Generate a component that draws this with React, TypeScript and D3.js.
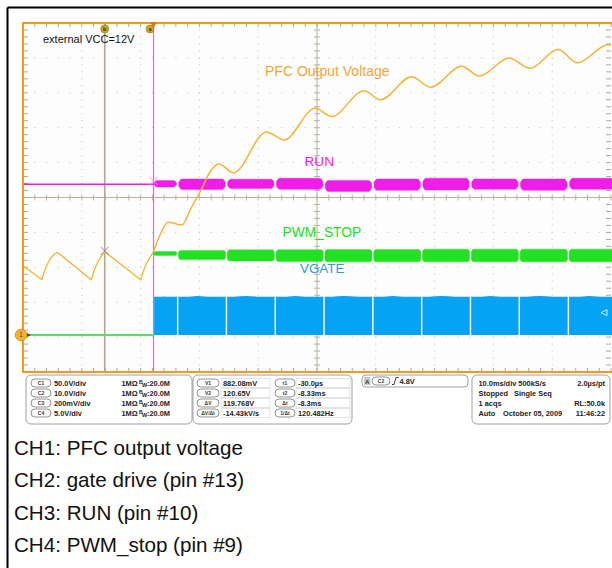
import React from 'react';
import * as d3 from 'd3';

// ---------- data ----------
const timeDomainMs = [0, 100]; // 10 ms/div
const divisionsX = 10;
const divisionsY = 10;
const groundDiv = -3.94; // all channel ground markers at same level

const channelNames = ['C1', 'C2', 'C3', 'C4'];
const channelVoltsPerDiv = [50, 10, 0.2, 5];
const channelScaleLabels = ['50.0V/div', '10.0V/div', '200mV/div', '5.0V/div'];
const channelCoupling = ['1MΩ', '1MΩ', '1MΩ', '1MΩ'];
const channelBandwidth = [':20.0M', ':20.0M', ':20.0M', ':20.0M'];

// CH1 PFC output voltage before start-up (sawtooth from VCC ripple), ms / V
const sawTimeMs = [0, 3.2, 3.6, 4.1, 4.7, 5.3, 5.8, 6.3, 11.6, 12.0, 12.5, 13.1, 13.6, 14.0, 14.5, 20.0, 20.4, 20.9, 21.5, 22.2];
const sawVolts = [99, 79.5, 90, 101, 110, 116, 118.5, 115.5, 79, 90, 101, 110, 116, 118.5, 115.5, 79, 90, 101, 110, 119.5];
// CH1 PFC output voltage ramp after start-up, ms / V
const rampTimeMs = [22.2, 23.4, 24.7, 27.0, 28.6, 30.3, 31.9, 33.3, 35.8, 41.4, 44.4, 49.7, 52.5, 58.0, 60.8, 66.1, 69.3, 74.6, 77.6, 82.7, 86.2, 91.0, 94.3, 99.5, 100];
const rampVolts = [119.5, 145, 162, 157.5, 182, 208, 235, 245, 232.5, 291, 279.5, 325, 313, 350, 337, 370, 355, 385, 371, 397, 382, 409, 390, 416, 415.5];

// switching bursts, one per half line cycle (8.33 ms)
const cycleEdgesMs = [22.3, 26.3, 34.6, 42.9, 51.2, 59.5, 67.8, 76.1, 84.4, 92.75, 101.5];
const runIdleV = 0.8636;
const runHighV = [0.885, 0.894, 0.893, 0.898, 0.886, 0.894, 0.899, 0.894, 0.894, 0.898];
const runLowV = [0.848, 0.834, 0.840, 0.835, 0.822, 0.829, 0.831, 0.835, 0.829, 0.835];
const pwmHighV = [11.96, 12.12, 12.2, 12.22, 12.25, 12.25, 12.3, 12.3, 12.3, 12.3];
const pwmLowV = [11.39, 10.8, 10.62, 10.52, 10.48, 10.48, 10.48, 10.5, 10.5, 10.5];
const gateEdgeV = [10.97, 10.97, 10.97, 10.97, 10.97, 10.97, 10.97, 10.97, 10.97, 10.97];
const gatePeakV = [11.05, 11.2, 11.15, 11.2, 11.15, 11.2, 11.15, 11.2, 11.15, 11.2];

const cursorAms = 22.2;
const cursorBms = 13.9;
const cursorAValue = 0.88208; // CH3
const cursorBValue = 120.65; // CH1

const measLabelsA = ['V1', 'V2', 'ΔV', 'ΔV/Δt'];
const measValuesA = ['882.08mV', '120.65V', '119.768V', '-14.43kV/s'];
const measLabelsB = ['t1', 't2', 'Δt', '1/Δt'];
const measValuesB = ['-30.0µs', '-8.33ms', '-8.3ms', '120.482Hz'];
const triggerInfo = ['A', 'C2', '4.8V'];
const acqLeft = ['10.0ms/div 500kS/s', 'Stopped', '1 acqs', 'Auto'];
const acqMid = ['', 'Single Seq', '', 'October 05, 2009'];
const acqRight = ['2.0µs/pt', '', 'RL:50.0k', '11:46:22'];

const captions = ['CH1: PFC output voltage', 'CH2: gate drive (pin #13)', 'CH3: RUN (pin #10)', 'CH4: PWM_stop (pin #9)'];
const traceLabels = ['PFC Output Voltage', 'RUN', 'PWM_STOP', 'VGATE'];
const noteText = 'external VCC=12V';

// ---------- layout ----------
const PL = 23, PR = 611, PT = 23, PB = 372;
const FONT = 'Liberation Sans, Arial, Helvetica, sans-serif';
const C_ORANGE = '#f6b234';
const C_FRAME = '#f39a18';
const C_MAG = '#f01ce8';
const C_GREEN = '#22e022';
const C_BLUE = '#06a3f5';
const C_GRID = '#c4c4c4';
const C_AXIS = '#b9b0a0';

const x = d3.scaleLinear().domain(timeDomainMs).range([PL, PR]);
const yDiv = d3.scaleLinear().domain([-divisionsY / 2, divisionsY / 2]).range([PB, PT]);
const yCh = (ch: number) => (v: number) => yDiv(groundDiv + v / channelVoltsPerDiv[ch]);
const y1 = yCh(0), y2 = yCh(1), y3 = yCh(2), y4 = yCh(3);

type BP = { t: number; hi: number; lo: number };
function bandPts(s: number, e: number, hi: number, lo: number, taper: number, inset: number): BP[] {
  const mid = (hi + lo) / 2, half = (hi - lo) / 2;
  return [
    { t: s, hi: mid + half * taper, lo: mid - half * taper },
    { t: s + inset, hi, lo },
    { t: (s + e) / 2, hi, lo },
    { t: e - inset, hi, lo },
    { t: e, hi: mid + half * taper, lo: mid - half * taper },
  ];
}

export default function App() {
  const segs = d3.range(cycleEdgesMs.length - 1);
  const sawLine = d3.line<number>().x((i) => x(sawTimeMs[i])).y((i) => y1(sawVolts[i])).curve(d3.curveLinear);
  const rampLine = d3.line<number>().x((i) => x(rampTimeMs[i])).y((i) => y1(rampVolts[i])).curve(d3.curveMonotoneX);

  const runArea = d3.area<BP>().x((d) => x(d.t)).y0((d) => y3(d.lo)).y1((d) => y3(d.hi)).curve(d3.curveMonotoneX);
  const pwmArea = d3.area<BP>().x((d) => x(d.t)).y0((d) => y4(d.lo)).y1((d) => y4(d.hi)).curve(d3.curveMonotoneX);
  const gateArea = d3.area<{ t: number; v: number }>().x((d) => x(d.t)).y0(() => y2(0)).y1((d) => y2(d.v)).curve(d3.curveMonotoneX);

  const majorX = d3.range(1, divisionsX).filter((i) => i !== divisionsX / 2);
  const majorY = d3.range(-divisionsY / 2 + 1, divisionsY / 2).filter((j) => j !== 0);
  const minorX = d3.range(0, divisionsX * 5 + 1).map((k) => PL + (k * (PR - PL)) / (divisionsX * 5));
  const minorY = d3.range(0, divisionsY * 5 + 1).map((k) => yDiv(-divisionsY / 2 + k / 5));
  const cx = (PL + PR) / 2, cy = yDiv(0);
  const dxDiv = (PR - PL) / divisionsX, dyDiv = (PB - PT) / divisionsY;

  const rowY = [383, 393, 403, 413];
  const pill = (px: number, py: number, w: number, label: string, key: string) => (
    <g key={key}>
      <rect x={px} y={py - 4} width={w} height={8} rx={4} fill="#fff" stroke="#666" strokeWidth={0.7} />
      <text x={px + w / 2} y={py + 1.8} fontSize={5} fontWeight="bold" textAnchor="middle" fill="#333">{label}</text>
    </g>
  );
  const txt = { fontFamily: FONT, fontSize: 7.4, fontWeight: 'bold' as const, fill: '#222' };

  return (
    <svg width={612} height={568} style={{ position: 'absolute', left: 0, top: 0, background: '#fff' }} fontFamily={FONT}>
      <defs>
        <clipPath id="plotClip"><rect x={PL} y={PT} width={612 - PL} height={PB - PT} /></clipPath>
      </defs>
      {/* outer frame */}
      <line x1={7.5} y1={7.5} x2={612} y2={7.5} stroke="#000" strokeWidth={2} />
      <line x1={7.5} y1={7.5} x2={7.5} y2={568} stroke="#000" strokeWidth={2} />

      {/* plot background */}
      <rect x={PL} y={PT} width={PR - PL} height={PB - PT} fill="#fdfdfd" />

      {/* dotted grid */}
      {majorX.map((i) => (
        <line key={'gx' + i} x1={PL + i * dxDiv} x2={PL + i * dxDiv} y1={PT} y2={PB} stroke={C_GRID} strokeWidth={1} strokeDasharray={`1.2 ${dyDiv / 5 - 1.2}`} strokeDashoffset={-dyDiv / 5 + 0.6} />
      ))}
      {majorY.map((j) => (
        <line key={'gy' + j} x1={PL} x2={PR} y1={yDiv(j)} y2={yDiv(j)} stroke={C_GRID} strokeWidth={1} strokeDasharray={`1.2 ${dxDiv / 5 - 1.2}`} strokeDashoffset={-dxDiv / 5 + 0.6} />
      ))}
      {/* center axes with ticks */}
      <line x1={PL} x2={PR} y1={cy} y2={cy} stroke={C_AXIS} strokeWidth={1} />
      <line x1={cx} x2={cx} y1={PT} y2={PB} stroke={C_AXIS} strokeWidth={1} />
      {minorX.map((px, k) => (
        <g key={'tx' + k}>
          <line x1={px} x2={px} y1={cy - 3} y2={cy + 3} stroke={C_AXIS} />
          <line x1={px} x2={px} y1={PT} y2={PT + 4} stroke="#a8a8a8" />
          <line x1={px} x2={px} y1={PB - 4} y2={PB} stroke="#a8a8a8" />
        </g>
      ))}
      {minorY.map((py, k) => (
        <g key={'ty' + k}>
          <line x1={cx - 3} x2={cx + 3} y1={py} y2={py} stroke={C_AXIS} />
          <line x1={PL} x2={PL + 5} y1={py} y2={py} stroke="#a8a8a8" />
          <line x1={PR - 5} x2={PR} y1={py} y2={py} stroke="#a8a8a8" />
        </g>
      ))}

      {/* cursors */}
      <line x1={x(cursorBms)} x2={x(cursorBms)} y1={PT} y2={PB} stroke="#b5a68e" strokeWidth={1.6} />
      <line x1={x(cursorAms)} x2={x(cursorAms)} y1={PT} y2={PB} stroke="#ff55ff" strokeWidth={1.2} />

      <g clipPath="url(#plotClip)">
        {/* CH2 gate drive */}
        <line x1={x(0)} x2={x(cycleEdgesMs[0])} y1={y2(0)} y2={y2(0)} stroke={C_BLUE} strokeWidth={1.5} />
        {segs.map((i) => {
          const s = cycleEdgesMs[i] + (i === 0 ? 0 : 0.12);
          const e = cycleEdgesMs[i + 1] - 0.12;
          const pts = [
            { t: s, v: gateEdgeV[i] },
            { t: s + (e - s) * 0.15, v: gateEdgeV[i] },
            { t: s + (e - s) * 0.4, v: gatePeakV[i] },
            { t: s + (e - s) * 0.7, v: gateEdgeV[i] },
            { t: e, v: gateEdgeV[i] },
          ];
          return <path key={'g' + i} d={gateArea(pts) || ''} fill={C_BLUE} />;
        })}
        {/* CH4 PWM_STOP */}
        <line x1={x(0)} x2={x(cycleEdgesMs[0])} y1={y4(0)} y2={y4(0)} stroke="#5be05b" strokeWidth={2} />
        {segs.map((i) => (
          <path key={'p' + i} d={pwmArea(bandPts(cycleEdgesMs[i] + (i === 0 ? 0 : 0.15), cycleEdgesMs[i + 1] - 0.15, pwmHighV[i], pwmLowV[i], 0.6, 0.3)) || ''} fill={C_GREEN} stroke={C_GREEN} strokeWidth={0.4} />
        ))}
        {/* CH3 RUN */}
        <line x1={x(0)} x2={x(cycleEdgesMs[0])} y1={y3(runIdleV)} y2={y3(runIdleV)} stroke={C_MAG} strokeWidth={1.4} />
        {segs.map((i) => (
          <path key={'r' + i} d={runArea(bandPts(cycleEdgesMs[i] + (i === 0 ? 0 : 0.2), cycleEdgesMs[i + 1] - 0.2, runHighV[i], runLowV[i], 0.4, 0.5)) || ''} fill={C_MAG} stroke={C_MAG} strokeWidth={0.4} />
        ))}
        {/* CH1 PFC output */}
        <path d={sawLine(d3.range(sawTimeMs.length)) || ''} fill="none" stroke={C_ORANGE} strokeWidth={1.3} strokeLinejoin="round" />
        <path d={rampLine(d3.range(rampTimeMs.length)) || ''} fill="none" stroke={C_ORANGE} strokeWidth={1.5} />
      </g>

      {/* cursor crosses */}
      {[[x(cursorBms), y1(cursorBValue), '#8f8f8f'], [x(cursorAms), y3(cursorAValue), '#ff88ff']].map(([px, py, c], k) => (
        <g key={'cx' + k} stroke={c as string} strokeWidth={1}>
          <line x1={(px as number) - 4} x2={(px as number) + 4} y1={(py as number) - 4} y2={(py as number) + 4} />
          <line x1={(px as number) - 4} x2={(px as number) + 4} y1={(py as number) + 4} y2={(py as number) - 4} />
        </g>
      ))}

      {/* ref marker */}
      <polygon points={`${PR - 10},${y2(6.4)} ${PR - 4},${y2(6.4) - 3} ${PR - 4},${y2(6.4) + 3}`} fill="none" stroke="#fff" strokeWidth={0.8} />

      {/* frame */}
      <polyline points={`${613},${PT} ${PL},${PT} ${PL},${PB} ${613},${PB}`} fill="none" stroke={C_FRAME} strokeWidth={2} />

      {/* cursor handles & trigger marker */}
      <polygon points={`${x(cursorAms) - 3.5},${PT - 1} ${x(cursorAms) + 3.5},${PT - 1} ${x(cursorAms)},${PT + 5}`} fill="#f07010" />
      <circle cx={x(cursorBms)} cy={29} r={4} fill="#c9a92a" stroke="#8a7420" strokeWidth={0.6} />
      <text x={x(cursorBms)} y={31} fontSize={5.5} fontWeight="bold" textAnchor="middle" fill="#3a2c00">b</text>
      <circle cx={x(cursorAms) - 3.5} cy={29} r={4} fill="#c9a92a" stroke="#8a7420" strokeWidth={0.6} />
      <text x={x(cursorAms) - 3.5} y={31} fontSize={5.5} fontWeight="bold" textAnchor="middle" fill="#3a2c00">a</text>

      {/* ground marker 1 */}
      <circle cx={21} cy={y1(0)} r={5.8} fill="#f4b232" stroke="#d08a10" strokeWidth={0.8} />
      <text x={21} y={y1(0) + 2.3} fontSize={6.5} textAnchor="middle" fill="#5a3a00">1</text>
      <polygon points={`${27},${y1(0) - 2} ${31},${y1(0)} ${27},${y1(0) + 2}`} fill="#6a4a10" />

      {/* labels */}
      <text x={43} y={42.7} fontSize={11} fill="#111">{noteText}</text>
      <text x={265} y={76} fontSize={14} fill="#f4a63a">{traceLabels[0]}</text>
      <text x={304.5} y={166} fontSize={13.6} fill={C_MAG}>{traceLabels[1]}</text>
      <text x={282.5} y={236.7} fontSize={13.8} fill={C_GREEN}>{traceLabels[2]}</text>
      <text x={300} y={273.3} fontSize={13.4} fill="#2c9be0">{traceLabels[3]}</text>

      {/* info panel 1: channels */}
      <rect x={26} y={375} width={166} height={49} rx={5} fill="#fff" stroke="#888" strokeWidth={0.8} />
      {channelNames.map((n, i) => (
        <g key={'ch' + i}>
          {pill(31, rowY[i], 20, n, 'cp' + i)}
          <text x={54} y={rowY[i] + 2.7} {...txt}>{channelScaleLabels[i]}</text>
          <text x={121.5} y={rowY[i] + 2.7} {...txt}>{channelCoupling[i]}</text>
          <text x={139} y={rowY[i] + 0.5} {...txt} fontSize={5}>B</text>
          <text x={142} y={rowY[i] + 3.5} {...txt} fontSize={5.5}>W</text>
          <text x={147} y={rowY[i] + 2.7} {...txt}>{channelBandwidth[i]}</text>
        </g>
      ))}

      {/* info panel 2: measurements */}
      <rect x={193} y={375} width={159} height={49} rx={5} fill="#fff" stroke="#888" strokeWidth={0.8} />
      {measLabelsA.map((n, i) => (
        <g key={'m' + i}>
          {pill(197, rowY[i], 22, n, 'ma' + i)}
          <rect x={221} y={rowY[i] - 4.5} width={49} height={9} fill="#fff" stroke="#d0d0d0" strokeWidth={0.6} />
          <text x={223} y={rowY[i] + 2.7} {...txt}>{measValuesA[i]}</text>
          {pill(275, rowY[i], 20, measLabelsB[i], 'mb' + i)}
          <rect x={296} y={rowY[i] - 4.5} width={54} height={9} fill="#fff" stroke="#d0d0d0" strokeWidth={0.6} />
          <text x={298} y={rowY[i] + 2.7} {...txt}>{measValuesB[i]}</text>
        </g>
      ))}

      {/* info panel 3: trigger */}
      <rect x={362} y={375} width={106} height={12} rx={4} fill="#fff" stroke="#888" strokeWidth={0.8} />
      <rect x={364} y={377} width={6.5} height={8} fill="#c8c8c8" />
      <text x={367.2} y={383.6} fontSize={6} fontWeight="bold" textAnchor="middle" fill="#333">{triggerInfo[0]}</text>
      {pill(372, 381, 18, triggerInfo[1], 'trig')}
      <path d="M392,384.5 L394,384.5 L396,377.5 L398.5,377.5" fill="none" stroke="#222" strokeWidth={0.9} />
      <text x={399.5} y={383.7} {...txt}>{triggerInfo[2]}</text>

      {/* info panel 4: acquisition */}
      <rect x={472} y={375} width={138} height={49} rx={5} fill="#fff" stroke="#888" strokeWidth={0.8} />
      {acqLeft.map((s, i) => (
        <g key={'aq' + i}>
          <text x={478.5} y={rowY[i] + 2.7} {...txt}>{s}</text>
          <text x={i === 3 ? 503 : 514} y={rowY[i] + 2.7} {...txt}>{acqMid[i]}</text>
          <text x={605} y={rowY[i] + 2.7} {...txt} textAnchor="end">{acqRight[i]}</text>
        </g>
      ))}

      {/* captions */}
      {captions.map((c, i) => (
        <text key={'cap' + i} x={14} y={455 + i * 32.4} fontSize={20.6} fill="#111">{c}</text>
      ))}
    </svg>
  );
}
